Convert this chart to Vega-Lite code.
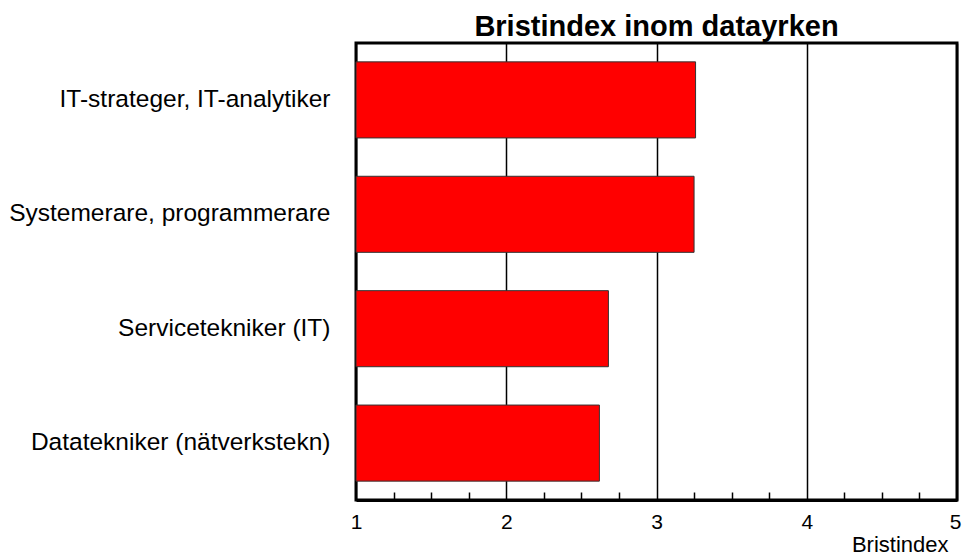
{
  "$schema": "https://vega.github.io/schema/vega-lite/v6.json",
  "autosize": "none",
  "width": 601,
  "height": 457,
  "padding": {"left": 356, "top": 43, "right": 5, "bottom": 57},
  "background": "white",
  "config": {
    "font": "Liberation Sans",
    "view": {"stroke": "black", "strokeWidth": 3}
  },
  "title": {
    "text": "Bristindex inom datayrken",
    "fontSize": 29,
    "fontWeight": "bold",
    "font": "Liberation Sans",
    "color": "black",
    "anchor": "middle",
    "offset": 1
  },
  "data": {
    "values": [
      {"yrke": "IT-strateger, IT-analytiker", "index": 3.26},
      {"yrke": "Systemerare, programmerare", "index": 3.25},
      {"yrke": "Servicetekniker (IT)", "index": 2.68},
      {"yrke": "Datatekniker (nätverkstekn)", "index": 2.62}
    ]
  },
  "encoding": {
    "y": {
      "field": "yrke",
      "type": "nominal",
      "sort": null,
      "scale": {"paddingInner": 0.335, "paddingOuter": 0.165},
      "axis": {
        "title": null,
        "domain": false,
        "ticks": false,
        "labelFontSize": 24.5,
        "labelColor": "black",
        "labelPadding": 26,
        "labelLimit": 400
      }
    }
  },
  "layer": [
    {
      "mark": {"type": "bar", "color": "#ff0000", "stroke": "#333333", "strokeWidth": 1},
      "encoding": {
        "x": {
          "field": "index",
          "type": "quantitative",
          "scale": {"domain": [1, 5], "zero": false, "nice": false},
          "axis": {
            "title": "Bristindex",
            "titleFontSize": 22,
            "titleFontWeight": "normal",
            "titleColor": "black",
            "titleAlign": "right",
            "titleBaseline": "bottom",
            "titleX": 592,
            "titleY": 56,
            "values": [1, 2, 3, 4, 5],
            "format": "d",
            "labelFontSize": 21,
            "labelColor": "black",
            "labelPadding": 11,
            "labelFlush": false,
            "labelOverlap": false,
            "labelOffset": {"condition": {"test": "datum.value == 5", "value": -2}, "value": 0},
            "ticks": false,
            "domain": true,
            "domainColor": "black",
            "domainWidth": 3,
            "grid": true,
            "gridColor": "black",
            "gridWidth": 1.5
          }
        },
        "x2": {"datum": 1}
      }
    },
    {
      "mark": {"type": "bar", "opacity": 0},
      "encoding": {
        "x": {
          "field": "index",
          "type": "quantitative",
          "scale": {"domain": [1, 5], "zero": false, "nice": false},
          "axis": {
            "title": null,
            "orient": "bottom",
            "offset": -8,
            "values": [1.25, 1.5, 1.75, 2.25, 2.5, 2.75, 3.25, 3.5, 3.75, 4.25, 4.5, 4.75],
            "labels": false,
            "domain": false,
            "grid": false,
            "ticks": true,
            "tickSize": 8,
            "tickColor": "black",
            "tickWidth": 1.5
          }
        },
        "x2": {"datum": 1}
      }
    }
  ],
  "resolve": {"axis": {"x": "independent"}}
}
